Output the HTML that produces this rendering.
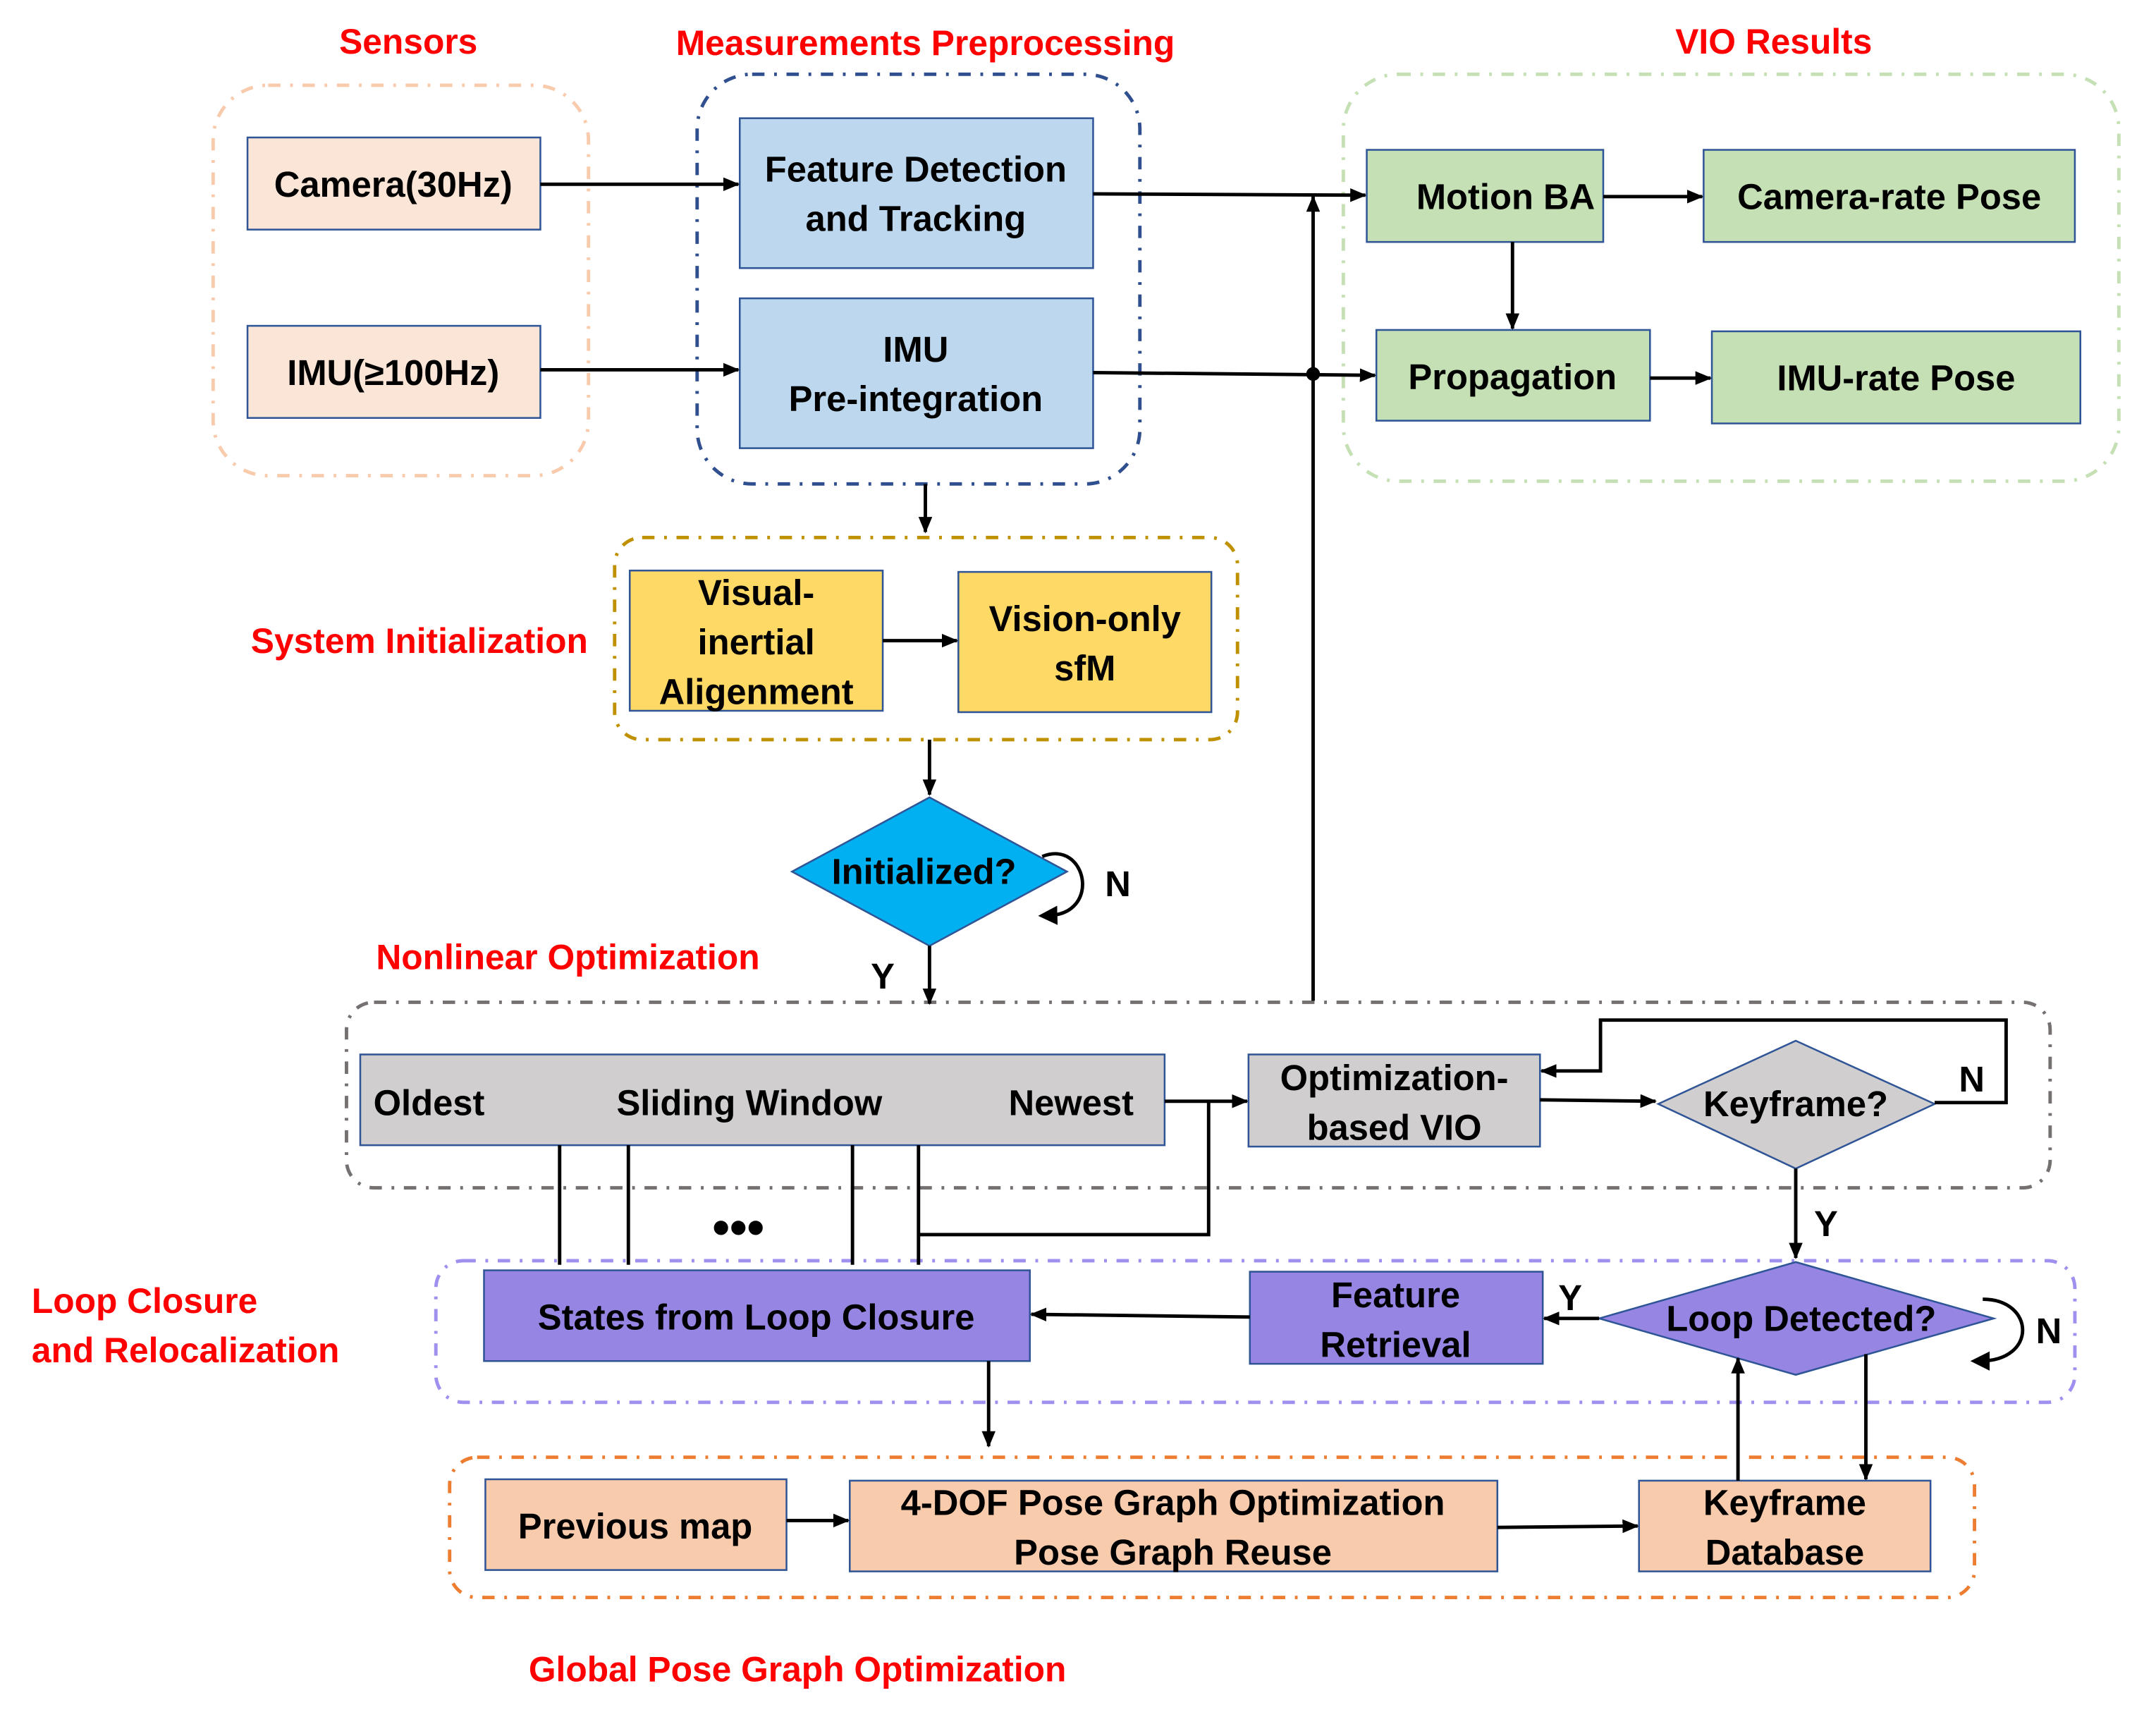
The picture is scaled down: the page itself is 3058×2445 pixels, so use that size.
<!DOCTYPE html>
<html><head><meta charset="utf-8"><style>
html,body{margin:0;padding:0;background:#fff;}
svg{display:block;}
text{font-family:"Liberation Sans",sans-serif;font-weight:bold;}
.b{font-size:26px;fill:#000;text-anchor:middle;}
.r{font-size:25.5px;fill:#ff0000;}
.g{fill:none;stroke-width:2.5;stroke-dasharray:9 7 2 7;}
.bx{stroke:#2f5597;stroke-width:1.3;}
.ln{stroke:#000;stroke-width:2.5;fill:none;}
</style></head><body>
<svg width="3058" height="2445" viewBox="0 0 1568 1254" preserveAspectRatio="none" xmlns="http://www.w3.org/2000/svg">
<defs><marker id="a" markerWidth="12" markerHeight="12" refX="11" refY="6" orient="auto" markerUnits="userSpaceOnUse"><path d="M0,1 L12,6 L0,11 z" fill="#000"/></marker>
<marker id="a2" markerWidth="14" markerHeight="14" refX="7" refY="7" orient="auto" markerUnits="userSpaceOnUse"><path d="M0,0 L14,7 L0,14 z" fill="#000"/></marker></defs>

<text class="r" x="297" y="39" text-anchor="middle">Sensors</text>
<text class="r" x="673" y="40" text-anchor="middle">Measurements Preprocessing</text>
<text class="r" x="1290" y="39" text-anchor="middle">VIO Results</text>
<text class="r" x="305" y="475" text-anchor="middle">System Initialization</text>
<text class="r" x="413" y="705" text-anchor="middle">Nonlinear Optimization</text>
<text class="r" x="23" y="955">Loop Closure</text>
<text class="r" x="23" y="991">and Relocalization</text>
<text class="r" x="580" y="1223" text-anchor="middle">Global Pose Graph Optimization</text>

<rect class="g" x="155" y="62" width="273" height="284" rx="40" stroke="#f8cbad"/>
<rect class="g" x="507" y="54" width="322" height="298" rx="40" stroke="#2f4f8f"/>
<rect class="g" x="977" y="54" width="564" height="296" rx="40" stroke="#c5e0b4"/>
<rect class="g" x="447" y="391" width="453" height="147" rx="20" stroke="#bf9000"/>
<rect class="g" x="252" y="729" width="1239" height="135" rx="20" stroke="#767171"/>
<rect class="g" x="317" y="917" width="1192" height="103" rx="20" stroke="#9f8fef"/>
<rect class="g" x="327" y="1060" width="1109" height="102" rx="20" stroke="#ed7d31"/>

<rect class="bx" x="180" y="100" width="213" height="67" fill="#fbe5d6"/>
<text class="b" x="286" y="143">Camera(30Hz)</text>
<rect class="bx" x="180" y="237" width="213" height="67" fill="#fbe5d6"/>
<text class="b" x="286" y="280">IMU(≥100Hz)</text>
<rect class="bx" x="538" y="86" width="257" height="109" fill="#bdd7ee"/>
<text class="b" x="666" y="132">Feature Detection</text>
<text class="b" x="666" y="168">and Tracking</text>
<rect class="bx" x="538" y="217" width="257" height="109" fill="#bdd7ee"/>
<text class="b" x="666" y="263">IMU</text>
<text class="b" x="666" y="299">Pre-integration</text>
<rect class="bx" x="994" y="109" width="172" height="67" fill="#c5e0b4"/>
<text class="b" x="1095" y="152">Motion BA</text>
<rect class="bx" x="1239" y="109" width="270" height="67" fill="#c5e0b4"/>
<text class="b" x="1374" y="152">Camera-rate Pose</text>
<rect class="bx" x="1001" y="240" width="199" height="66" fill="#c5e0b4"/>
<text class="b" x="1100" y="283">Propagation</text>
<rect class="bx" x="1245" y="241" width="268" height="67" fill="#c5e0b4"/>
<text class="b" x="1379" y="284">IMU-rate Pose</text>

<rect class="bx" x="458" y="415" width="184" height="102" fill="#ffd966"/>
<text class="b" x="550" y="440">Visual-</text>
<text class="b" x="550" y="476">inertial</text>
<text class="b" x="550" y="512">Aligenment</text>
<rect class="bx" x="697" y="416" width="184" height="102" fill="#ffd966"/>
<text class="b" x="789" y="459">Vision-only</text>
<text class="b" x="789" y="495">sfM</text>

<polygon points="576,634 676,580 776,634 676,688" fill="#00b0f0" stroke="#2f5597" stroke-width="1.3"/>
<text class="b" x="672" y="643">Initialized?</text>
<path class="ln" d="M758,623 C790,610 802,665 762,666" marker-end="url(#a2)"/>
<text class="b" x="813" y="652">N</text>
<text class="b" x="642" y="719">Y</text>

<rect class="bx" x="262" y="767" width="585" height="66" fill="#d0cece"/>
<text class="b" x="312" y="811">Oldest</text>
<text class="b" x="545" y="811">Sliding Window</text>
<text class="b" x="779" y="811">Newest</text>
<rect class="bx" x="908" y="767" width="212" height="67" fill="#d0cece"/>
<text class="b" x="1014" y="793">Optimization-</text>
<text class="b" x="1014" y="829">based VIO</text>
<polygon points="1206,803 1306,757 1407,803 1306,850" fill="#d0cece" stroke="#2f5597" stroke-width="1.3"/>
<text class="b" x="1306" y="812">Keyframe?</text>
<text class="b" x="1434" y="794">N</text>
<text class="b" x="1328" y="899">Y</text>

<rect class="bx" x="352" y="924" width="397" height="66" fill="#9685e3"/>
<text class="b" x="550" y="967">States from Loop Closure</text>
<rect class="bx" x="909" y="925" width="213" height="67" fill="#9685e3"/>
<text class="b" x="1015" y="951">Feature</text>
<text class="b" x="1015" y="987">Retrieval</text>
<polygon points="1163,959 1306,918 1450,959 1306,1000" fill="#9685e3" stroke="#2f5597" stroke-width="1.3"/>
<text class="b" x="1310" y="968">Loop Detected?</text>
<text class="b" x="1142" y="953">Y</text>
<path class="ln" d="M1442,945 C1480,945 1482,990 1440,990" marker-end="url(#a2)"/>
<text class="b" x="1490" y="977">N</text>

<rect class="bx" x="353" y="1076" width="219" height="66" fill="#f8cbad"/>
<text class="b" x="462" y="1119">Previous map</text>
<rect class="bx" x="618" y="1077" width="471" height="66" fill="#f8cbad"/>
<text class="b" x="853" y="1102">4-DOF Pose Graph Optimization</text>
<text class="b" x="853" y="1138">Pose Graph Reuse</text>
<rect class="bx" x="1192" y="1077" width="212" height="66" fill="#f8cbad"/>
<text class="b" x="1298" y="1102">Keyframe</text>
<text class="b" x="1298" y="1138">Database</text>

<path class="ln" d="M393,134 H537" marker-end="url(#a)"/>
<path class="ln" d="M393,269 H537" marker-end="url(#a)"/>
<path class="ln" d="M795,141 L993,142" marker-end="url(#a)"/>
<path class="ln" d="M795,271 L1000,273" marker-end="url(#a)"/>
<circle cx="955" cy="272" r="5" fill="#000"/>
<path class="ln" d="M955,728 V143" marker-end="url(#a)"/>
<path class="ln" d="M1166,143 H1238" marker-end="url(#a)"/>
<path class="ln" d="M1100,176 V239" marker-end="url(#a)"/>
<path class="ln" d="M1200,275 H1244" marker-end="url(#a)"/>
<path class="ln" d="M673,352 V387" marker-end="url(#a)"/>
<path class="ln" d="M642,466 H696" marker-end="url(#a)"/>
<path class="ln" d="M676,538 V578" marker-end="url(#a)"/>
<path class="ln" d="M676,688 V730" marker-end="url(#a)"/>
<path class="ln" d="M847,801 H907" marker-end="url(#a)"/>
<path class="ln" d="M407,833 V920 M457,833 V920 M620,833 V920 M668,833 V920"/>
<path class="ln" d="M668,898 H879 V801"/>
<text x="537" y="905" font-size="36" text-anchor="middle" style="font-weight:bold">•••</text>
<path class="ln" d="M1120,800 L1204,801" marker-end="url(#a)"/>
<path class="ln" d="M1407,802 H1459 V742 H1164 V779 H1121" marker-end="url(#a)"/>
<path class="ln" d="M1306,850 V915" marker-end="url(#a)"/>
<path class="ln" d="M1163,959 H1123" marker-end="url(#a)"/>
<path class="ln" d="M909,958 L750,956" marker-end="url(#a)"/>
<path class="ln" d="M719,990 V1052" marker-end="url(#a)"/>
<path class="ln" d="M572,1106 H617" marker-end="url(#a)"/>
<path class="ln" d="M1089,1111 L1191,1110" marker-end="url(#a)"/>
<path class="ln" d="M1264,1077 V988" marker-end="url(#a)"/>
<path class="ln" d="M1357,985 V1076" marker-end="url(#a)"/>
</svg>
</body></html>
